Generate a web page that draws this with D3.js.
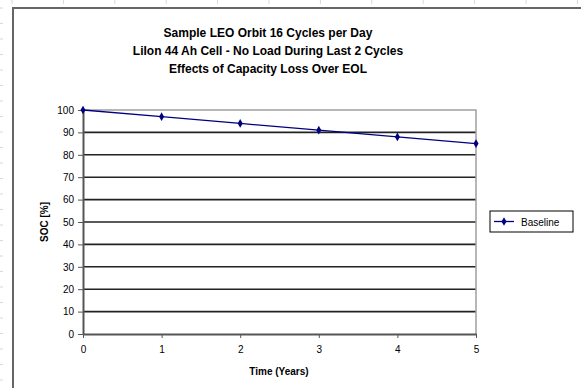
<!DOCTYPE html>
<html>
<head>
<meta charset="utf-8">
<script src="https://cdn.jsdelivr.net/npm/d3@7"></script>
<style>
  body { margin: 0; background: #fff; }
  svg { display: block; }
  text { font-family: "Liberation Sans", Arial, sans-serif; fill: #000; }
</style>
</head>
<body>
<svg></svg>
<script>
let years = [0, 1, 2, 3, 4, 5];
let baseline = [100, 97, 94, 91, 88, 85];
let yTicks = [0, 10, 20, 30, 40, 50, 60, 70, 80, 90, 100];
let titleLines = [
  'Sample LEO Orbit 16 Cycles per Day',
  'LiIon 44 Ah Cell - No Load During Last 2 Cycles',
  'Effects of Capacity Loss Over EOL'
];
let seriesName = 'Baseline';

let w = 581;
let h = 388;
let padL = 83, padR = 476, padT = 110, padB = 334;

let svg = d3.select('svg').attr('width', w).attr('height', h);

// spreadsheet marks outside the chart frame
svg.selectAll('.rowmark')
   .data(d3.range(8, 388, 15.5))
   .enter().append('line')
   .attr('x1', 0).attr('x2', 3)
   .attr('y1', d => d).attr('y2', d => d)
   .attr('stroke', '#d8d8d8');
svg.selectAll('.colmark')
   .data(d3.range(12, 581, 51.4))
   .enter().append('line')
   .attr('x1', d => d).attr('x2', d => d)
   .attr('y1', 0).attr('y2', 4)
   .attr('stroke', '#d8d8d8');

// chart frame
svg.append('path')
   .attr('d', 'M13,' + h + 'V8H' + w)
   .attr('fill', 'none')
   .attr('stroke', '#666')
   .attr('stroke-width', 2);

let xScale = d3.scaleLinear().domain([0, 5]).range([padL, padR]);
let yScale = d3.scaleLinear().domain([0, 100]).range([padB, padT]);

// title
svg.append('text')
   .attr('text-anchor', 'middle')
   .style('font-size', '12px')
   .style('font-weight', 'bold')
   .selectAll('tspan')
   .data(titleLines)
   .enter().append('tspan')
   .attr('x', 268)
   .attr('y', (d, i) => 37 + i * 18)
   .text(d => d);

// gridlines
svg.selectAll('.grid')
   .data(yTicks.filter(d => d > 0 && d < 100))
   .enter().append('line')
   .attr('x1', padL).attr('x2', padR)
   .attr('y1', d => yScale(d)).attr('y2', d => yScale(d))
   .attr('stroke', '#222')
   .attr('stroke-width', 1.6);

// plot border top/right
svg.append('path')
   .attr('d', 'M' + padL + ',' + padT + 'H' + padR + 'V' + padB)
   .attr('fill', 'none')
   .attr('stroke', '#a0a0a0')
   .attr('stroke-width', 1.5);

let yAxis = d3.axisLeft(yScale).tickValues(yTicks).tickSize(5).tickSizeOuter(0);
let gy = svg.append('g')
   .attr('transform', 'translate(' + padL + ',0)')
   .call(yAxis);
gy.selectAll('text').style('font-size', '10px').attr('dx', '-1');

let xAxis = d3.axisBottom(xScale).tickValues(years).tickFormat(d3.format('d'))
              .tickSize(4).tickSizeOuter(0);
let gx = svg.append('g')
   .attr('transform', 'translate(0,' + padB + ')')
   .call(xAxis);
gx.selectAll('text').style('font-size', '10px').attr('dy', '1.2em');

svg.selectAll('.domain').attr('stroke', '#555').attr('stroke-width', 2);
svg.selectAll('.tick line').attr('stroke', '#555');

// axis titles
svg.append('text')
   .attr('x', 279).attr('y', 375)
   .attr('text-anchor', 'middle')
   .style('font-size', '10px').style('font-weight', 'bold')
   .text('Time (Years)');
svg.append('text')
   .attr('transform', 'translate(48,' + ((padT + padB) / 2) + ') rotate(-90)')
   .attr('text-anchor', 'middle')
   .style('font-size', '10px').style('font-weight', 'bold')
   .text('SOC [%]');

// series
let pts = years.map((y, i) => [y, baseline[i]]);
let line = d3.line().x(d => xScale(d[0])).y(d => yScale(d[1]));
svg.append('path')
   .datum(pts)
   .attr('d', line)
   .attr('fill', 'none')
   .attr('stroke', '#000080')
   .attr('stroke-width', 1.3);
let diamond = d3.symbol().type(d3.symbolDiamond).size(22);
svg.selectAll('.pt')
   .data(pts)
   .enter().append('path')
   .attr('d', diamond)
   .attr('transform', d => 'translate(' + xScale(d[0]) + ',' + yScale(d[1]) + ')')
   .attr('fill', '#000080');

// legend
let lg = svg.append('g').attr('transform', 'translate(490,211)');
lg.append('rect')
  .attr('width', 83).attr('height', 21)
  .attr('fill', '#fff').attr('stroke', '#000').attr('stroke-width', 1);
lg.append('line')
  .attr('x1', 4).attr('x2', 24).attr('y1', 10.5).attr('y2', 10.5)
  .attr('stroke', '#000080').attr('stroke-width', 1.3);
lg.append('path')
  .attr('d', diamond)
  .attr('transform', 'translate(14,10.5)')
  .attr('fill', '#000080');
lg.append('text')
  .attr('x', 31).attr('y', 14.5)
  .style('font-size', '10px')
  .text(seriesName);
</script>
</body>
</html>
